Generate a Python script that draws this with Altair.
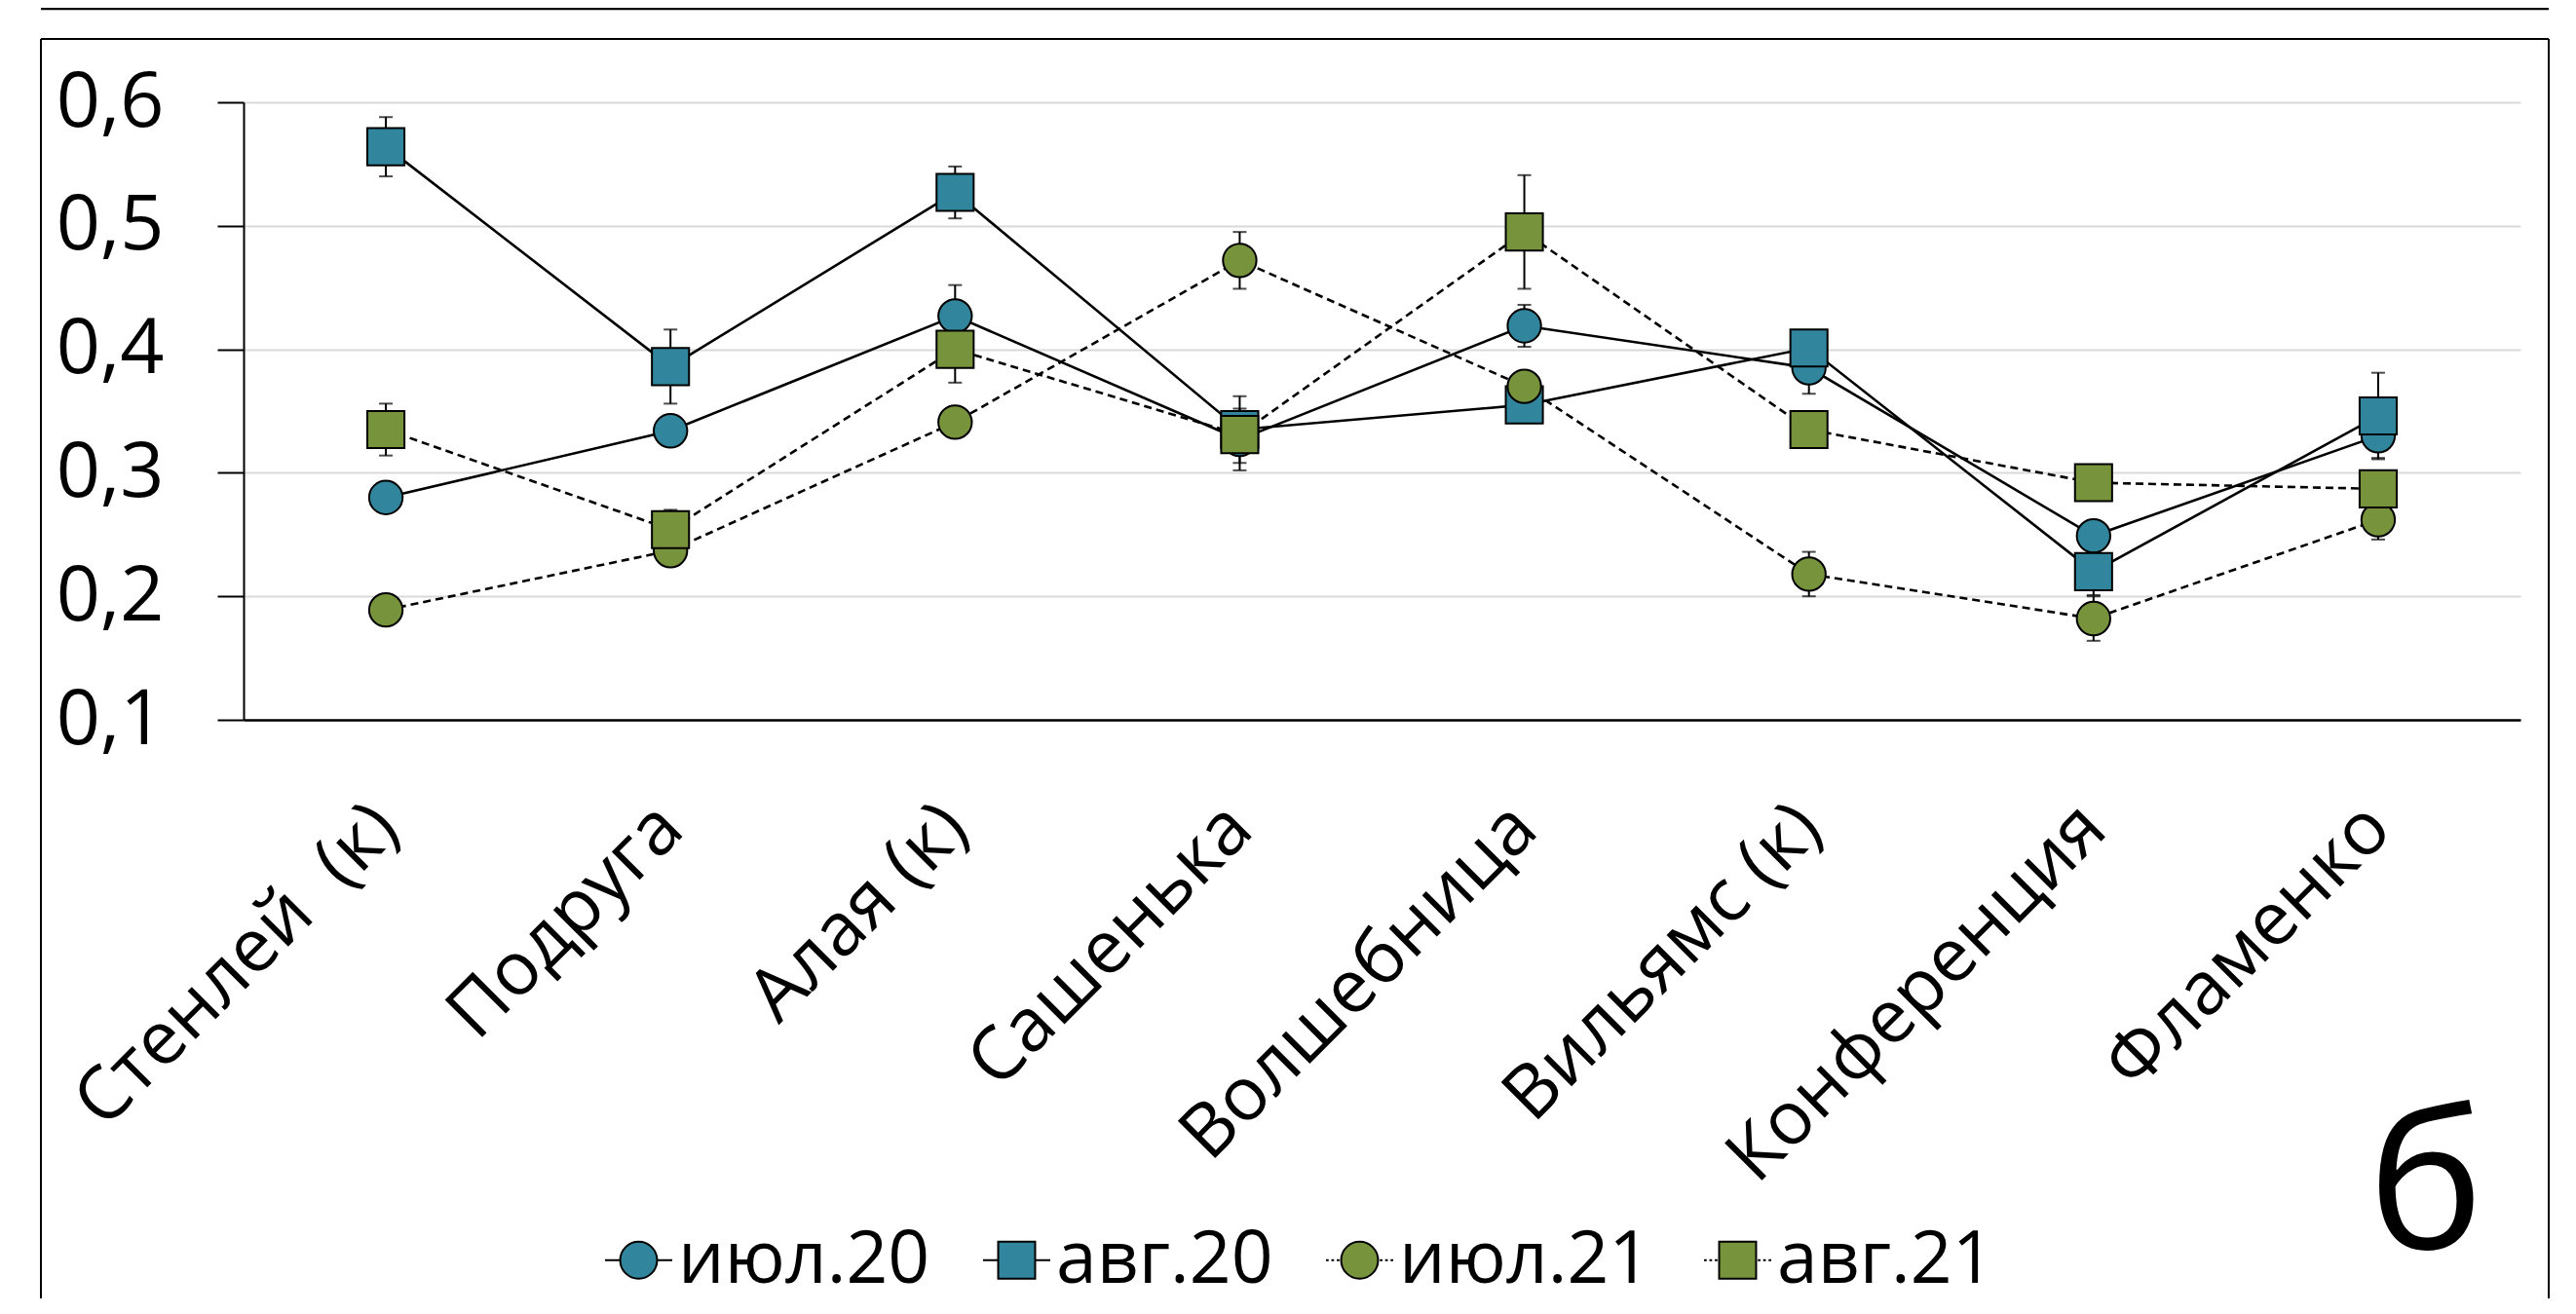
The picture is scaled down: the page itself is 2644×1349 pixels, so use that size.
import altair as alt
import pandas as pd

categories = ["Стенлей \u00a0(к)", "Подруга", "Алая (к)", "Сашенька", "Волшебница",
              "Вильямс (к)", "Конференция", "Фламенко"]
series = ["июл.20", "авг.20", "июл.21", "авг.21"]

jul20 = [0.280, 0.334, 0.427, 0.327, 0.419, 0.385, 0.249, 0.330]
aug20 = [0.564, 0.386, 0.527, 0.335, 0.355, 0.401, 0.220, 0.346]
jul21 = [0.189, 0.237, 0.341, 0.472, 0.370, 0.218, 0.182, 0.262]
aug21 = [0.335, 0.254, 0.400, 0.331, 0.495, 0.335, 0.292, 0.287]

jul20_err = [0.010, 0.010, 0.025, 0.025, 0.017, 0.021, 0.010, 0.018]
aug20_err = [0.024, 0.030, 0.021, 0.027, 0.010, 0.010, 0.019, 0.035]
jul21_err = [0.010, 0.010, 0.010, 0.023, 0.010, 0.018, 0.018, 0.016]
aug21_err = [0.021, 0.016, 0.027, 0.010, 0.046, 0.010, 0.010, 0.010]

y_ticks = [0.1, 0.2, 0.3, 0.4, 0.5, 0.6]
panel_letter = "б"

BLUE = "#31859C"
GREEN = "#77933C"
series_colors = [BLUE, BLUE, GREEN, GREEN]
series_shapes = ["circle", "square", "circle", "square"]
series_sizes = [1180, 1450, 1180, 1450]

# legend symbols: marker with a line through it (units -1..1)
legend_paths = [
    "M-1,0L-0.55,0M0.55,0L1,0M0.55,0A0.55,0.55,0,1,1,-0.55,0A0.55,0.55,0,1,1,0.55,0Z",
    "M-1,0L-0.55,0M0.55,0L1,0M-0.55,-0.55L0.55,-0.55L0.55,0.55L-0.55,0.55Z",
    "M-1,0L-0.92,0M-0.84,0L-0.76,0M-0.68,0L-0.6,0M0.6,0L0.68,0M0.76,0L0.84,0M0.92,0L1,0"
    "M0.55,0A0.55,0.55,0,1,1,-0.55,0A0.55,0.55,0,1,1,0.55,0Z",
    "M-1,0L-0.92,0M-0.84,0L-0.76,0M-0.68,0L-0.6,0M0.6,0L0.68,0M0.76,0L0.84,0M0.92,0L1,0"
    "M-0.55,-0.55L0.55,-0.55L0.55,0.55L-0.55,0.55Z",
]

rows = []
for s_i, (name, vals, errs) in enumerate(zip(series, [jul20, aug20, jul21, aug21],
                                             [jul20_err, aug20_err, jul21_err, aug21_err])):
    for c_i, (cat, v, e) in enumerate(zip(categories, vals, errs)):
        rows.append(dict(cat=cat, series=name, value=v, lo=v - e, hi=v + e, idx=c_i,
                         fillc=series_colors[s_i], shp=series_shapes[s_i],
                         msize=series_sizes[s_i]))
df = pd.DataFrame(rows)

FONT = "Open Sans"
W, H = 2337, 634

x_enc = alt.X("cat:N", scale=alt.Scale(type="point", padding=0.5, domain=categories),
              axis=alt.Axis(title=None, labelAngle=-45, labelAlign="right",
                            labelBaseline="middle", labelFontSize=76, labelFont=FONT,
                            labelColor="black", ticks=False, tickSize=0, labelPadding=99,
                            domainColor="black", domainWidth=2.5, grid=False,
                            labelLimit=2000, labelOverlap=False))
y_scale = alt.Scale(domain=[0.1, 0.6], nice=False, zero=False)
y_axis = alt.Axis(title=None, values=y_ticks,
                  labelExpr="replace(format(datum.value, '.1f'), '.', ',')",
                  labelFontSize=79, labelFont=FONT, labelColor="black",
                  labelPadding=55, tickSize=27, tickColor="black", tickWidth=2,
                  domainColor="black", domainWidth=2, grid=True,
                  gridColor="#d9d9d9", gridWidth=2)

base = alt.Chart(df)

solid = base.transform_filter(
    alt.FieldOneOfPredicate(field="series", oneOf=["июл.20", "авг.20"])
).mark_line(color="black", strokeWidth=2.6).encode(
    x=x_enc, y=alt.Y("value:Q", scale=y_scale, axis=y_axis),
    detail="series:N", order="idx:Q")

dashed = base.transform_filter(
    alt.FieldOneOfPredicate(field="series", oneOf=["июл.21", "авг.21"])
).mark_line(color="black", strokeWidth=2.6, strokeDash=[8, 5]).encode(
    x=x_enc, y=alt.Y("value:Q", scale=y_scale, axis=y_axis),
    detail="series:N", order="idx:Q")

err_rule = base.mark_rule(color="black", strokeWidth=2).encode(
    x=x_enc, y=alt.Y("lo:Q", scale=y_scale, axis=y_axis), y2="hi:Q")
cap_lo = base.mark_tick(color="black", thickness=2, size=14).encode(
    x=x_enc, y=alt.Y("lo:Q", scale=y_scale, axis=y_axis))
cap_hi = base.mark_tick(color="black", thickness=2, size=14).encode(
    x=x_enc, y=alt.Y("hi:Q", scale=y_scale, axis=y_axis))

points = base.mark_point(filled=True, stroke="black", strokeWidth=2, opacity=1).encode(
    x=x_enc, y=alt.Y("value:Q", scale=y_scale, axis=y_axis),
    color=alt.Color("fillc:N", scale=None, legend=None),
    shape=alt.Shape("shp:N", scale=None, legend=None),
    size=alt.Size("msize:Q", scale=None, legend=None))

leg = alt.Legend(title=None, orient="none", legendX=368, legendY=1151,
                 direction="horizontal", columns=4, symbolSize=4761,
                 symbolStrokeWidth=2, symbolOpacity=1, labelFontSize=75,
                 labelFont=FONT, labelColor="black", labelOffset=3,
                 columnPadding=50, labelLimit=2000, padding=0, offset=0)
legend_layer = base.mark_point(filled=True, size=0, stroke="black", strokeWidth=2).encode(
    x=x_enc, y=alt.Y("value:Q", scale=y_scale, axis=y_axis),
    color=alt.Color("series:N", scale=alt.Scale(domain=series, range=series_colors),
                    legend=leg),
    shape=alt.Shape("series:N", scale=alt.Scale(domain=series, range=legend_paths),
                    legend=leg))

one = alt.Data(values=[{"k": 0}])
FL, FR, FT, FB = -208, 2366, -65, 1300
frame_left = alt.Chart(one).mark_rule(color="black", strokeWidth=2).encode(
    x=alt.value(FL), y=alt.value(FT), y2=alt.value(FB))
frame_right = alt.Chart(one).mark_rule(color="black", strokeWidth=2).encode(
    x=alt.value(FR), y=alt.value(FT), y2=alt.value(FB))
frame_top = alt.Chart(one).mark_rule(color="black", strokeWidth=2).encode(
    x=alt.value(FL), x2=alt.value(FR), y=alt.value(FT))
prev_bottom = alt.Chart(one).mark_rule(color="black", strokeWidth=2.5).encode(
    x=alt.value(FL), x2=alt.value(FR), y=alt.value(-96))

letter = alt.Chart(one).mark_text(font=FONT, fontSize=200, color="black",
                                  align="center", baseline="alphabetic").encode(
    x=alt.value(2240), y=alt.value(1177), text=alt.value(panel_letter))

chart = alt.layer(
    frame_left, frame_right, frame_top, prev_bottom,
    solid, dashed, err_rule, cap_lo, cap_hi, points, legend_layer, letter
).resolve_scale(color="independent", shape="independent", size="independent").properties(
    width=W, height=H,
    autosize=alt.AutoSizeParams(type="none"),
    padding={"left": 242, "top": 97, "right": 40, "bottom": 594},
    background="white",
).configure_view(stroke=None)

chart.save("out.html", embed_options={"renderer": "svg", "actions": False})
